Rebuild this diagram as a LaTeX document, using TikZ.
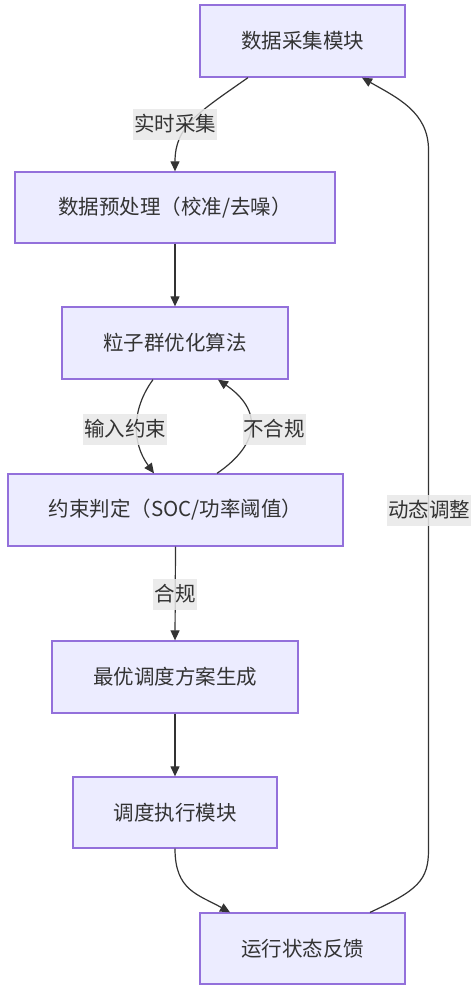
\documentclass[tikz,border=0pt]{standalone}
\usepackage{fontspec}
\setmainfont{Noto Sans CJK SC}
\usetikzlibrary{arrows.meta}
\definecolor{boxfill}{HTML}{ECECFF}
\definecolor{boxdraw}{HTML}{9370DB}
\definecolor{linec}{HTML}{333333}
\definecolor{lblbg}{HTML}{E8E8E8}
\tikzset{
  box/.style={draw=boxdraw, fill=boxfill, line width=1.3pt, minimum height=72pt, inner sep=0pt, text=linec, font=\fontsize{20.5}{24}\selectfont},
  lbl/.style={fill=lblbg, fill opacity=0.85, text opacity=1, text=linec, inner sep=0pt, minimum height=31pt, font=\fontsize{20.5}{24}\selectfont},
  conn/.style={draw=linec, line width=1.2pt, -{Triangle[length=10pt,width=9pt]}},
}
\begin{document}
\begin{tikzpicture}[x=1pt,y=-1pt]
\useasboundingbox (0,0) rectangle (472,985);
\node[box, minimum width=205pt] (b1) at (302.5,41) {数据采集模块};
\node[box, minimum width=320pt, minimum height=71pt] (b2) at (175,207.5) {数据预处理（校准/去噪）};
\node[box, minimum width=226pt] (b3) at (175,343) {粒子群优化算法};
\node[box, minimum width=335pt] (b4) at (175.5,510) {约束判定（SOC/功率阈值）};
\node[box, minimum width=246pt] (b5) at (175,677) {最优调度方案生成};
\node[box, minimum width=204pt, minimum height=71pt] (b6) at (175,812.5) {调度执行模块};
\node[box, minimum width=205pt, minimum height=71pt] (b7) at (302.5,948.5) {运行状态反馈};

\draw[conn] ([xshift=-54.5pt]b1.south) .. controls +(-50,35) and +(0,-45) .. (b2.north);
\draw[conn] (b2.south) -- (b3.north);
\draw[conn] ([xshift=-22pt]b3.south) .. controls +(-22,30) and +(-22,-30) .. ([xshift=-21.5pt]b4.north);
\draw[conn] ([xshift=41.5pt]b4.north) .. controls +(44,-30) and +(44,30) .. ([xshift=43pt]b3.south);
\draw[conn] (b4.south) -- (b5.north);
\draw[conn] (b5.south) -- (b6.north);
\draw[conn] (b6.south) .. controls +(0,42) and +(-32,-18) .. ([xshift=-72.5pt]b7.north);
\draw[conn] ([xshift=67.5pt]b7.north) .. controls +(48,-22) and +(0,30) .. (428.5,850) -- (428.5,150) .. controls +(0,-38) and +(35,20) .. ([xshift=59.5pt]b1.south);

\node[lbl, minimum width=84pt] (l1) at (175,124) {实时采集};
\node[lbl, minimum width=84pt] (l2) at (125,429) {输入约束};
\node[lbl, minimum width=63pt] (l3) at (274,429) {不合规};
\node[lbl, minimum width=44pt] (l4) at (175,594) {合规};
\node[lbl, minimum width=84pt] (l5) at (429,510) {动态调整};
\end{tikzpicture}
\end{document}
